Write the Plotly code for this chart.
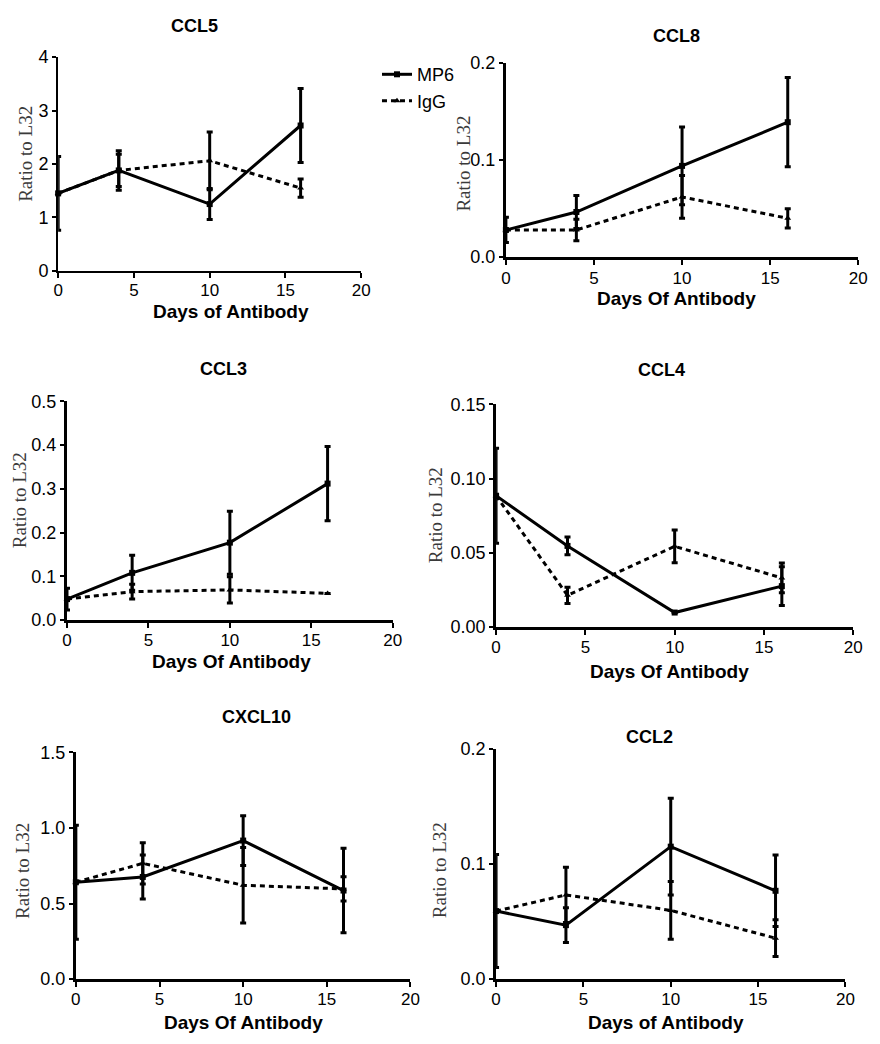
import plotly.graph_objects as go

W, H = 880, 1044
days = [0, 4, 10, 16]

titles = ["CCL5", "CCL8", "CCL3", "CCL4", "CXCL10", "CCL2"]
xtitles = ["Days of Antibody", "Days Of Antibody", "Days Of Antibody",
           "Days Of Antibody", "Days Of Antibody", "Days of Antibody"]

mp6 = [
    [1.45, 1.88, 1.25, 2.72],
    [0.028, 0.0465, 0.094, 0.139],
    [0.048, 0.108, 0.177, 0.312],
    [0.0884, 0.0546, 0.0097, 0.0275],
    [0.641, 0.676, 0.917, 0.586],
    [0.059, 0.0468, 0.1149, 0.0766],
]
mp6_err = [
    [0.69, 0.37, 0.29, 0.69],
    [0.013, 0.017, 0.040, 0.046],
    [0.025, 0.040, 0.072, 0.085],
    [0.032, 0.006, 0.0, 0.013],
    [0.377, 0.146, 0.165, 0.28],
    [0.049, 0.015, 0.042, 0.031],
]
igg = [
    [1.45, 1.88, 2.06, 1.55],
    [0.028, 0.028, 0.062, 0.040],
    [0.048, 0.065, 0.069, 0.061],
    [0.0884, 0.0213, 0.0543, 0.033],
    [0.641, 0.766, 0.621, 0.597],
    [0.059, 0.073, 0.0596, 0.0355],
]
igg_err = [
    [0.0, 0.30, 0.54, 0.17],
    [0.0, 0.011, 0.022, 0.010],
    [0.0, 0.017, 0.030, 0.0],
    [0.0, 0.0055, 0.011, 0.010],
    [0.0, 0.137, 0.25, 0.08],
    [0.0, 0.024, 0.025, 0.016],
]
y_max = [4, 0.2, 0.5, 0.15, 1.5, 0.2]
y_dtick = [1, 0.1, 0.1, 0.05, 0.5, 0.1]
y_fmt = ["d", ".1f", ".1f", ".2f", ".1f", ".1f"]
x_ticks = [0, 5, 10, 15, 20]

# layout geometry (pixels)
boxes = [  # x0, x1, ytop, ybottom
    (54, 362, 48, 266),
    (509, 867, 54, 252),
    (63, 394, 399, 622),
    (499, 862, 402, 629),
    (72, 412, 757, 988),
    (499, 854, 753, 988),
]
title_pos = [(193, 16), (682, 26), (222, 366), (667, 367), (256, 721), (655, 741)]
ytitle_pos = [(21, 147), (466, 157), (15, 500), (437, 515), (17, 878), (441, 877)]
xtitle_pos = [(230, 307), (682, 294), (230, 664), (675, 674), (242, 1032), (672, 1032)]

fig = go.Figure()
annotations = []
for i in range(6):
    xa = "x" if i == 0 else f"x{i+1}"
    ya = "y" if i == 0 else f"y{i+1}"
    lw = 2 if i == 0 else 3
    fig.add_trace(go.Scatter(
        x=days, y=igg[i], xaxis=xa, yaxis=ya, name="IgG",
        mode="lines+markers", showlegend=(i == 0), cliponaxis=False,
        line=dict(color="black", width=3, dash="5px,4px"),
        marker=dict(symbol="triangle-up", size=6, color="black"),
        error_y=dict(type="data", array=igg_err[i], visible=True,
                     thickness=3, width=3, color="black"),
    ))
    fig.add_trace(go.Scatter(
        x=days, y=mp6[i], xaxis=xa, yaxis=ya, name="MP6",
        mode="lines+markers", showlegend=(i == 0), cliponaxis=False,
        line=dict(color="black", width=3),
        marker=dict(symbol="square", size=6, color="black"),
        error_y=dict(type="data", array=mp6_err[i], visible=True,
                     thickness=3, width=3, color="black"),
    ))
    x0, x1, yt, yb = boxes[i]
    axx = dict(domain=[x0 / W, x1 / W], range=[0, 20], tickvals=x_ticks,
               showline=True, linecolor="black", linewidth=lw,
               ticks="outside", ticklen=5, tickwidth=2, tickcolor="black",
               ticklabelstandoff=-2,
               showgrid=False, zeroline=False, anchor=ya,
               tickfont=dict(family="Liberation Sans", size=17, color="black"))
    axy = dict(domain=[1 - yb / H, 1 - yt / H], range=[0, y_max[i]],
               dtick=y_dtick[i], tick0=0, tickformat=y_fmt[i],
               showline=True, linecolor="black", linewidth=lw,
               ticks="outside", ticklen=4, tickwidth=2, tickcolor="black",
               showgrid=False, zeroline=False, anchor=xa,
               tickfont=dict(family="Liberation Sans", size=18, color="black"))
    key = "" if i == 0 else str(i + 1)
    fig.update_layout(**{f"xaxis{key}": axx, f"yaxis{key}": axy})

    tx, ty = title_pos[i]
    annotations.append(dict(text=f"<b>{titles[i]}</b>", x=tx / W, y=1 - ty / H,
                            xref="paper", yref="paper", showarrow=False,
                            xanchor="center", yanchor="middle",
                            font=dict(family="Liberation Sans", size=18, color="black")))
    ax_, ay_ = ytitle_pos[i]
    annotations.append(dict(text="Ratio to L32", x=ax_ / W, y=1 - ay_ / H,
                            xref="paper", yref="paper", showarrow=False, textangle=-90,
                            xanchor="center", yanchor="middle",
                            font=dict(family="Liberation Serif", size=19, color="#3a3a3a")))
    bx, by = xtitle_pos[i]
    annotations.append(dict(text=f"<b>{xtitles[i]}</b>", x=bx / W, y=1 - by / H,
                            xref="paper", yref="paper", showarrow=False,
                            xanchor="center", yanchor="middle",
                            font=dict(family="Liberation Sans", size=19, color="black")))

fig.update_layout(
    width=W, height=H, margin=dict(l=0, r=0, t=0, b=0),
    paper_bgcolor="white", plot_bgcolor="white",
    annotations=annotations,
    legend=dict(x=378 / W, y=1 - 47 / H, xanchor="left", yanchor="top",
                traceorder="reversed", itemwidth=30, tracegroupgap=0,
                bgcolor="rgba(0,0,0,0)",
                font=dict(family="Liberation Sans", size=18, color="black")),
)
fig.write_html("out.html")
